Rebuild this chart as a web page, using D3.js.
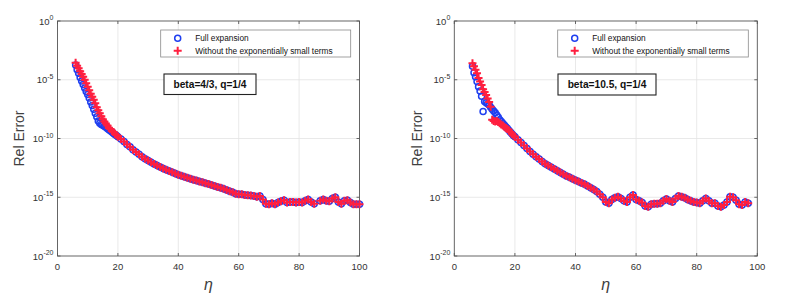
<!DOCTYPE html>
<html><head><meta charset="utf-8">
<script src="https://cdn.jsdelivr.net/npm/d3@7"></script>
<style>body{margin:0;background:#fff} svg{display:block} text{font-family:"Liberation Sans",Arial,sans-serif}</style>
</head><body><svg id="c" width="790" height="297"></svg>
<script>
// ---------- data (log10 of relative error) ----------
const etaEarly = [6,6.5,7,7.5,8,8.5,9,9.5,10,10.5,11,11.5,12,12.5,13,13.5,14,14.5,15,15.5,16,16.5,17,17.5,18,18.5,19,19.5];
const etaMainLeft = d3.range(20, 101);
const etaMainRight = d3.range(20, 98);

const leftFullEarly = [-3.75,-4.15,-4.45,-4.8,-5.1,-5.4,-5.7,-6.0,-6.25,-6.55,-6.9,-7.2,-7.5,-7.85,-8.15,-8.5,-8.7,-8.8,-8.88,-8.95,-9.05,-9.15,-9.25,-9.35,-9.45,-9.55,-9.65,-9.75];
const leftNoExpEarly = [-3.55,-3.8,-4.03,-4.27,-4.5,-4.75,-5.0,-5.3,-5.6,-5.9,-6.2,-6.45,-6.7,-7.0,-7.35,-7.6,-7.86,-8.1,-8.37,-8.55,-8.72,-8.9,-9.1,-9.2,-9.35,-9.45,-9.6,-9.7];
const leftMain = [-9.85,-10.05,-10.25,-10.5,-10.7,-10.95,-11.15,-11.35,-11.55,-11.72,-11.88,-12.02,-12.16,-12.3,-12.42,-12.55,-12.66,-12.77,-12.88,-12.98,-13.08,-13.17,-13.26,-13.34,-13.42,-13.5,-13.58,-13.65,-13.73,-13.8,-13.88,-13.96,-14.05,-14.12,-14.2,-14.28,-14.38,-14.48,-14.58,-14.7,-14.75,-14.75,-14.8,-14.82,-14.85,-14.9,-14.95,-14.9,-15.2,-15.55,-15.6,-15.5,-15.6,-15.45,-15.35,-15.25,-15.45,-15.4,-15.4,-15.45,-15.4,-15.45,-15.3,-15.2,-15.4,-15.55,null,-15.3,-15.2,-15.3,-15.35,-15.1,-15.0,-15.4,-15.55,-15.3,-15.25,-15.45,-15.6,-15.6,-15.6];

const rightFullEarly = [-3.85,-4.4,-4.75,-5.15,-5.6,-5.95,-6.4,-7.7,-6.85,-6.95,-7.05,-7.15,-7.35,-7.5,-7.65,-7.8,-8.0,-8.2,-8.4,-8.55,-8.7,-8.85,-9.0,-9.15,-9.3,-9.45,-9.6,-9.75];
const rightNoExpEarly = [-3.6,-3.85,-4.15,-4.45,-4.85,-5.15,-5.45,-5.8,-6.05,-6.3,-6.6,-6.9,-7.3,-8.4,-8.5,-8.55,-8.5,-8.6,-8.7,-8.8,-8.9,-9.0,-9.1,-9.2,-9.3,-9.45,-9.6,-9.75];
const rightMain = [-9.85,-10.1,-10.35,-10.6,-10.85,-11.1,-11.35,-11.55,-11.75,-11.95,-12.15,-12.3,-12.45,-12.6,-12.75,-12.9,-13.05,-13.2,-13.3,-13.42,-13.55,-13.65,-13.78,-13.9,-14.05,-14.2,-14.35,-14.5,-14.75,-15.0,-15.4,-15.5,-15.2,-15.05,-14.95,-15.1,-15.3,-15.4,-15.0,-14.8,-15.2,-15.3,-15.45,-15.75,-15.8,-15.6,-15.55,-15.55,-15.5,-15.3,-15.15,-15.3,-15.4,-15.1,-14.9,-14.95,-15.05,-15.2,-15.3,-15.4,-15.45,-15.5,-15.3,-15.1,-15.3,-15.5,-15.5,-15.75,-15.8,-15.65,-15.4,-14.95,-15.0,-15.25,-15.6,-15.65,-15.4,-15.5];

const xTicks = [0,20,40,60,80,100];
const yTickExps = [0,-5,-10,-15,-20];
const legendLabels = ["Full expansion","Without the exponentially small terms"];
const panelLabels = ["beta=4/3, q=1/4","beta=10.5, q=1/4"];

// ---------- drawing ----------
const svg = d3.select("#c");
const blue = "#1f3ff0", red = "#ff1f3f";
const crossPath = "M-4,0H4M0,-4V4";

function toPts(etas, vals){
  return etas.map((e,i)=>({x:e, y:vals[i]})).filter(d=>d.y!==null);
}

const panels = [
  {x0:57.5, x1:359.5, full: toPts(etaEarly.concat(etaMainLeft), leftFullEarly.concat(leftMain)),
   noexp: toPts(etaEarly.concat(etaMainLeft), leftNoExpEarly.concat(leftMain)),
   label: panelLabels[0], box:{x:164, y:74, w:92, h:20.5}, leg:{x:160.7, y:30, w:190, h:27}, ylab:19},
  {x0:454.3, x1:757.3, full: toPts(etaEarly.concat(etaMainRight), rightFullEarly.concat(rightMain)),
   noexp: toPts(etaEarly.concat(etaMainRight), rightNoExpEarly.concat(rightMain)),
   label: panelLabels[1], box:{x:558, y:74, w:98, h:21}, leg:{x:557.7, y:30, w:190.6, h:27}, ylab:417}
];
const yTop = 21, yBot = 256;

panels.forEach(p=>{
  const x = d3.scaleLinear().domain([0,100]).range([p.x0,p.x1]);
  const y = d3.scaleLinear().domain([-20,0]).range([yBot,yTop]);
  const g = svg.append("g");
  // grid
  g.selectAll(".gx").data(xTicks.slice(1,-1)).join("line")
    .attr("x1",d=>x(d)).attr("x2",d=>x(d)).attr("y1",yTop).attr("y2",yBot)
    .attr("stroke","#e3e3e3").attr("stroke-width",0.8);
  g.selectAll(".gy").data(yTickExps.slice(1,-1)).join("line")
    .attr("y1",d=>y(d)).attr("y2",d=>y(d)).attr("x1",p.x0).attr("x2",p.x1)
    .attr("stroke","#e3e3e3").attr("stroke-width",0.8);
  // ticks (inward) on all sides
  xTicks.forEach(t=>{
    g.append("line").attr("x1",x(t)).attr("x2",x(t)).attr("y1",yBot).attr("y2",yBot-3).attr("stroke","#444").attr("stroke-width",0.8);
    g.append("line").attr("x1",x(t)).attr("x2",x(t)).attr("y1",yTop).attr("y2",yTop+3).attr("stroke","#444").attr("stroke-width",0.8);
  });
  yTickExps.forEach(t=>{
    g.append("line").attr("x1",p.x0).attr("x2",p.x0+3).attr("y1",y(t)).attr("y2",y(t)).attr("stroke","#444").attr("stroke-width",0.8);
    g.append("line").attr("x1",p.x1).attr("x2",p.x1-3).attr("y1",y(t)).attr("y2",y(t)).attr("stroke","#444").attr("stroke-width",0.8);
  });
  // frame
  g.append("rect").attr("x",p.x0).attr("y",yTop).attr("width",p.x1-p.x0).attr("height",yBot-yTop)
    .attr("fill","none").attr("stroke","#555").attr("stroke-width",0.9);
  // x tick labels
  g.selectAll(".xl").data(xTicks).join("text")
    .attr("x",d=>x(d)).attr("y",yBot+14).attr("text-anchor","middle")
    .attr("font-size",9.5).attr("fill","#333").text(d=>d);
  // y tick labels 10^e
  yTickExps.forEach(e=>{
    const t = g.append("text").attr("x",p.x0-4).attr("y",y(e)+3.5).attr("text-anchor","end")
      .attr("font-size",9.5).attr("fill","#333");
    t.append("tspan").text("10");
    t.append("tspan").attr("dy",-4.5).attr("font-size",7).text(e);
  });
  // axis labels
  g.append("text").attr("transform",`translate(${p.ylab},${(yTop+yBot)/2}) rotate(-90)`)
    .attr("text-anchor","middle").attr("dy","0.35em").attr("font-size",14).attr("fill","#404040").text("Rel Error");
  g.append("text").attr("x",(p.x0+p.x1)/2).attr("y",290)
    .attr("text-anchor","middle").attr("font-size",16).attr("font-style","italic")
    .attr("font-family","'Liberation Serif','DejaVu Serif',serif").attr("fill","#404040").text("η");
  // data: circles then crosses
  g.selectAll(".c").data(p.full).join("circle")
    .attr("cx",d=>x(d.x)).attr("cy",d=>y(d.y)).attr("r",3)
    .attr("fill","none").attr("stroke",blue).attr("stroke-width",1.5);
  g.selectAll(".p").data(p.noexp).join("path")
    .attr("transform",d=>`translate(${x(d.x)},${y(d.y)})`)
    .attr("d",crossPath).attr("stroke",red).attr("stroke-width",2).attr("fill","none");
  // legend
  const L = p.leg;
  g.append("rect").attr("x",L.x).attr("y",L.y).attr("width",L.w).attr("height",L.h)
    .attr("fill","#fff").attr("stroke","#8a8a8a").attr("stroke-width",0.8);
  g.append("circle").attr("cx",L.x+17).attr("cy",L.y+8.3).attr("r",3)
    .attr("fill","none").attr("stroke",blue).attr("stroke-width",1.5);
  g.append("path").attr("transform",`translate(${L.x+17},${L.y+20.7})`)
    .attr("d",crossPath).attr("stroke",red).attr("stroke-width",2);
  legendLabels.forEach((s,i)=>{
    g.append("text").attr("x",L.x+34.5).attr("y",L.y+8.3+i*12.4).attr("dy","0.35em")
      .attr("font-size",8.3).attr("fill","#111").text(s);
  });
  // annotation box
  const B = p.box;
  g.append("rect").attr("x",B.x).attr("y",B.y).attr("width",B.w).attr("height",B.h)
    .attr("fill","#fff").attr("stroke","#222").attr("stroke-width",1.1);
  g.append("text").attr("x",B.x+B.w/2).attr("y",B.y+B.h/2).attr("dy","0.36em")
    .attr("text-anchor","middle").attr("font-size",10.2).attr("font-weight","bold").attr("fill","#111").text(p.label);
});
</script>
</body></html>
